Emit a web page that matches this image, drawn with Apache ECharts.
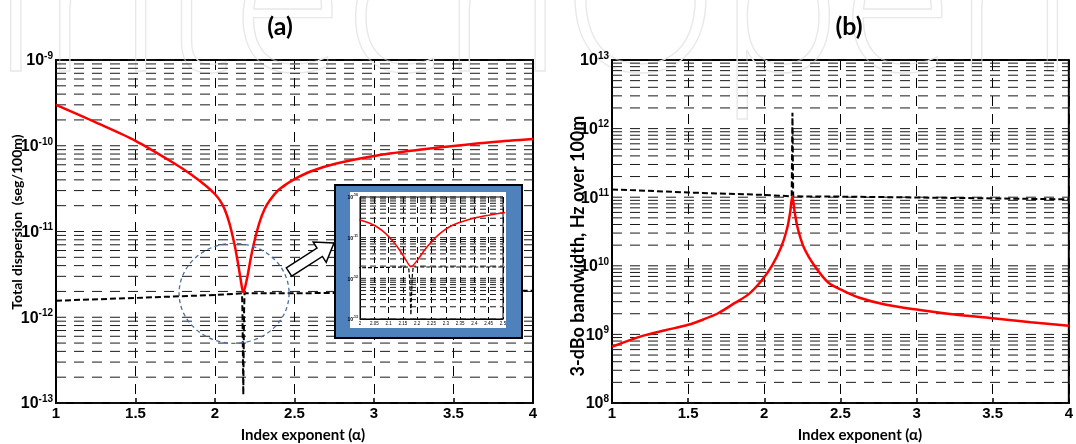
<!DOCTYPE html>
<html>
<head>
<meta charset="utf-8">
<script src="https://cdn.jsdelivr.net/npm/echarts@6/dist/echarts.min.js"></script>
<style>
  html, body { margin: 0; padding: 0; background: #fff; }
  #chart { width: 1076px; height: 444px; }
</style>
</head>
<body>
<div id="chart"></div>
<script>
// ---- Panel (a): total dispersion vs index exponent ----
const alphaRedA = [1.00, 1.25, 1.50, 1.75, 1.85, 1.95, 2.00, 2.03, 2.06, 2.09, 2.12, 2.14, 2.16, 2.178,
  2.202, 2.224, 2.246, 2.279, 2.312, 2.345, 2.40, 2.45, 2.50, 2.60, 2.75, 3.00, 3.25, 3.50, 3.75, 4.00];
const dispRedA = [2.99e-10, 1.87e-10, 1.14e-10, 6.13e-11, 4.62e-11, 3.33e-11, 2.72e-11, 2.32e-11, 1.83e-11,
  1.26e-11, 7.44e-12, 4.78e-12, 2.87e-12, 1.94e-12, 2.87e-12, 4.78e-12, 7.44e-12, 1.26e-11, 1.83e-11,
  2.32e-11, 3.05e-11, 3.58e-11, 4.09e-11, 5.01e-11, 6.13e-11, 7.59e-11, 8.80e-11, 9.93e-11, 1.106e-10,
  1.20e-10];
const alphaBlackA = [1.0, 1.5, 2.0, 2.17, 2.173, 2.176, 2.178, 2.18, 2.183, 2.186, 2.5, 3.0, 3.5, 4.0];
const dispBlackA = [1.56e-12, 1.68e-12, 1.82e-12, 1.9e-12, 1.1e-12, 3.0e-13, 1.25e-13, 3.5e-13, 1.2e-12,
  1.9e-12, 1.9e-12, 1.95e-12, 2.0e-12, 2.04e-12];

// ---- Panel (b): 3-dB bandwidth vs index exponent ----
const alphaRedB = [1.0, 1.2, 1.35, 1.5, 1.6, 1.7, 1.81, 1.9, 1.98, 2.05, 2.11, 2.15, 2.17, 2.184, 2.20,
  2.22, 2.26, 2.33, 2.42, 2.52, 2.62, 2.8, 3.0, 3.25, 3.5, 3.75, 4.0];
const bwRedB = [6.6e8, 9.5e8, 1.15e9, 1.38e9, 1.65e9, 2.05e9, 2.9e9, 3.9e9, 6.0e9, 1.0e10, 1.85e10,
  3.5e10, 6.0e10, 1.03e11, 6.0e10, 3.5e10, 1.85e10, 1.0e10, 5.7e9, 4.3e9, 3.45e9, 2.7e9, 2.3e9, 1.95e9,
  1.72e9, 1.5e9, 1.34e9];
const alphaBlackB = [1.0, 1.5, 2.0, 2.18, 2.183, 2.185, 2.187, 2.19, 2.5, 3.0, 3.5, 4.0];
const bwBlackB = [1.3e11, 1.17e11, 1.08e11, 1.03e11, 6e11, 1.7e12, 6e11, 1.03e11, 1.02e11, 9.9e10,
  9.6e10, 9.3e10];

// ---- Tick labels ----
const xTickLabels = ['1', '1.5', '2', '2.5', '3', '3.5', '4'];
const insetXTickLabels = ['2', '2.05', '2.1', '2.15', '2.2', '2.25', '2.3', '2.35', '2.4', '2.45', '2.5'];
const yExpA = ['-13', '-12', '-11', '-10', '-9'];
const yExpB = ['8', '9', '10', '11', '12', '13'];
const yExpInset = ['-13', '-12', '-11', '-10'];

const FONT_NUM = '"Liberation Sans", Arial, sans-serif';
const FONT_TXT = 'Lato, "Open Sans", sans-serif';

const pairs = (xs, ys) => xs.map((x, i) => [x, ys[i]]);

// Log-grid values 1..9 x 10^n for each decade between two exponents
function logGridValues(lo, hi) {
  const out = [];
  for (let n = lo; n < hi; n++) {
    for (let k = 1; k <= 9; k++) out.push([2, k * Math.pow(10, n)]);
  }
  out.push([2, Math.pow(10, hi)]);
  return out;
}

function hGridSeries(axisIdx, lo, hi, dash, z, color) {
  return {
    type: 'custom',
    xAxisIndex: axisIdx, yAxisIndex: axisIdx,
    z: z, silent: true,
    encode: { x: 0, y: 1 },
    data: logGridValues(lo, hi),
    renderItem: function (params, api) {
      const cs = params.coordSys;
      const y = api.coord([2, api.value(1)])[1];
      return {
        type: 'line',
        shape: { x1: cs.x, y1: y, x2: cs.x + cs.width, y2: y },
        style: { stroke: color, lineWidth: 1, lineDash: dash }
      };
    }
  };
}

function supLabel(exps, base, sup, pad) {
  return {
    formatter: (v, i) => '{b|10}{s|' + exps[i] + '}',
    rich: {
      b: { fontSize: base, fontWeight: 'bold', fontFamily: FONT_NUM, color: '#000', verticalAlign: 'bottom', lineHeight: base + 2 },
      s: { fontSize: sup, fontWeight: 'bold', fontFamily: FONT_NUM, color: '#000', verticalAlign: 'top', lineHeight: sup, padding: [0, 0, pad, 0] }
    }
  };
}

function mainX(gridIndex) {
  return {
    gridIndex: gridIndex, type: 'value', min: 1, max: 4, interval: 0.5,
    axisLine: { show: true, onZero: false, lineStyle: { color: '#000', width: 2 } },
    axisTick: { show: true, inside: true, length: 5, lineStyle: { color: '#000', width: 1.5 } },
    axisLabel: { margin: 3, fontSize: 15, fontWeight: 'bold', fontFamily: FONT_NUM, color: '#000',
      formatter: (v, i) => xTickLabels[i] },
    splitLine: { show: true, lineStyle: { color: '#000', width: 1, type: [10, 8] } }
  };
}

function mainY(gridIndex, min, max, split, exps) {
  return {
    gridIndex: gridIndex, type: 'log', logBase: 10, min: min, max: max, splitNumber: split,
    axisLine: { show: true, lineStyle: { color: '#000', width: 2 } },
    axisTick: { show: false },
    splitLine: { show: false },
    axisLabel: Object.assign({ margin: 3 }, supLabel(exps, 16, 10, 10))
  };
}

const chart = echarts.init(document.getElementById('chart'));

const option = {
  animation: false,
  backgroundColor: '#fff',
  grid: [
    { left: 56, top: 60, width: 477, height: 343, show: true, borderColor: '#000', borderWidth: 2, backgroundColor: 'transparent' },
    { left: 612, top: 60, width: 468, height: 343, show: true, borderColor: '#000', borderWidth: 2, backgroundColor: 'transparent' },
    { left: 360, top: 197, width: 143, height: 122, show: true, borderColor: '#000', borderWidth: 1, backgroundColor: 'transparent', z: 20 }
  ],
  xAxis: [
    mainX(0),
    mainX(1),
    {
      gridIndex: 2, type: 'value', min: 2, max: 2.5, interval: 0.05, z: 20,
      axisLine: { show: true, onZero: false, lineStyle: { color: '#000', width: 1 } },
      axisTick: { show: true, inside: true, length: 2, lineStyle: { color: '#000', width: 0.8 } },
      axisLabel: { margin: 2, fontSize: 4.5, fontFamily: FONT_NUM, color: '#000', formatter: (v, i) => insetXTickLabels[i] },
      splitLine: { show: true, lineStyle: { color: '#000', width: 1, type: [6, 4] } }
    }
  ],
  yAxis: [
    mainY(0, 1e-13, 1e-9, 4, yExpA),
    mainY(1, 1e8, 1e13, 5, yExpB),
    {
      gridIndex: 2, type: 'log', logBase: 10, min: 1e-13, max: 1e-10, splitNumber: 3, z: 20,
      axisLine: { show: true, lineStyle: { color: '#000', width: 1 } },
      axisTick: { show: false },
      splitLine: { show: false },
      axisLabel: Object.assign({ margin: 2 }, supLabel(yExpInset, 5, 3.5, 3))
    }
  ],
  series: [
    hGridSeries(0, -13, -9, [10, 8], 1, '#1a1a1a'),
    {
      type: 'line', xAxisIndex: 0, yAxisIndex: 0, data: pairs(alphaBlackA, dispBlackA), showSymbol: false, z: 3,
      lineStyle: { color: '#000', width: 2, type: [6, 3] }
    },
    {
      type: 'line', xAxisIndex: 0, yAxisIndex: 0, data: pairs(alphaRedA, dispRedA), showSymbol: false, z: 4,
      smooth: 0.3, lineStyle: { color: '#ff0000', width: 2.5 }
    },
    hGridSeries(1, 8, 13, [10, 8], 1, '#1a1a1a'),
    {
      type: 'line', xAxisIndex: 1, yAxisIndex: 1, data: pairs(alphaBlackB, bwBlackB), showSymbol: false, z: 3,
      lineStyle: { color: '#000', width: 2, type: [6, 3] }
    },
    {
      type: 'line', xAxisIndex: 1, yAxisIndex: 1, data: pairs(alphaRedB, bwRedB), showSymbol: false, z: 4,
      smooth: 0.3, lineStyle: { color: '#ff0000', width: 2.5 }
    },
    hGridSeries(2, -13, -10, [6, 4], 21, '#1a1a1a'),
    {
      type: 'line', xAxisIndex: 2, yAxisIndex: 2, data: pairs(alphaBlackA, dispBlackA), showSymbol: false, z: 22,
      lineStyle: { color: '#000', width: 1.2, type: [4, 2] }
    },
    {
      type: 'line', xAxisIndex: 2, yAxisIndex: 2, data: pairs(alphaRedA, dispRedA), showSymbol: false, z: 23,
      smooth: 0.3, lineStyle: { color: '#ff0000', width: 1.5 }
    }
  ]
};
chart.setOption(option);

// Block arrow pointing from the circled minimum to the zoomed inset
function arrowPoints(x0, y0, x1, y1, shaft, head, headLen) {
  const dx = x1 - x0, dy = y1 - y0, L = Math.hypot(dx, dy);
  const ux = dx / L, uy = dy / L, nx = -uy, ny = ux;
  const local = [[0, -shaft], [L - headLen, -shaft], [L - headLen, -head], [L, 0],
    [L - headLen, head], [L - headLen, shaft], [0, shaft]];
  return local.map(p => [x0 + ux * p[0] + nx * p[1], y0 + uy * p[0] + ny * p[1]]);
}

const circleCenter = chart.convertToPixel({ gridIndex: 0 }, [2.12, 1.9e-12]);

chart.setOption({
  graphic: [
    {
      type: 'text', x: -10, y: -90, z: 0, silent: true,
      style: { text: 'IntechOpen', font: '300 205px "Open Sans"', fill: 'rgba(0,0,0,0)', stroke: '#e8e8e8', lineWidth: 1.3 }
    },
    {
      type: 'text', x: 280, y: 27, z: 5,
      style: { text: '(a)', font: 'bold 25px ' + FONT_TXT, fill: '#000', align: 'center', verticalAlign: 'middle', textAlign: 'center', textVerticalAlign: 'middle' }
    },
    {
      type: 'text', x: 849, y: 27, z: 5,
      style: { text: '(b)', font: 'bold 25px ' + FONT_TXT, fill: '#000', align: 'center', verticalAlign: 'middle', textAlign: 'center', textVerticalAlign: 'middle' }
    },
    {
      type: 'text', x: 303, y: 435, z: 5,
      style: { text: 'Index exponent (\u03b1)', font: 'bold 15px ' + FONT_TXT, fill: '#000', align: 'center', verticalAlign: 'middle', textAlign: 'center', textVerticalAlign: 'middle' }
    },
    {
      type: 'text', x: 860, y: 435, z: 5,
      style: { text: 'Index exponent (\u03b1)', font: 'bold 15px ' + FONT_TXT, fill: '#000', align: 'center', verticalAlign: 'middle', textAlign: 'center', textVerticalAlign: 'middle' }
    },
    {
      type: 'text', x: 17, y: 222, rotation: Math.PI / 2, z: 5,
      style: { text: 'Total dispersion  (seg/100m)', font: 'bold 14px ' + FONT_TXT, fill: '#000', align: 'center', verticalAlign: 'middle', textAlign: 'center', textVerticalAlign: 'middle' }
    },
    {
      type: 'text', x: 578, y: 246, rotation: Math.PI / 2, z: 5,
      style: { text: '3-dBo bandwidth, Hz over 100m', font: 'bold 18px ' + FONT_TXT, fill: '#000', align: 'center', verticalAlign: 'middle', textAlign: 'center', textVerticalAlign: 'middle' }
    },
    {
      type: 'circle', x: circleCenter[0], y: circleCenter[1], scaleX: 1.1, scaleY: 1, z: 10, silent: true,
      shape: { cx: 0, cy: 0, r: 50 },
      style: { fill: 'rgba(0,0,0,0)', stroke: '#4a6fa5', lineWidth: 1.2, lineDash: [4, 3] }
    },
    {
      type: 'polygon', z: 10, silent: true,
      shape: { points: arrowPoints(289, 272, 334, 243, 5, 12, 17) },
      style: { fill: '#fff', stroke: '#000', lineWidth: 1.5 }
    },
    {
      type: 'rect', z: 10, silent: true,
      shape: { x: 335, y: 185, width: 187, height: 153 },
      style: { fill: '#4f81bd', stroke: '#000', lineWidth: 2 }
    },
    {
      type: 'rect', z: 11, silent: true,
      shape: { x: 350, y: 192, width: 156, height: 136 },
      style: { fill: '#fff' }
    }
  ]
});
</script>
</body>
</html>
